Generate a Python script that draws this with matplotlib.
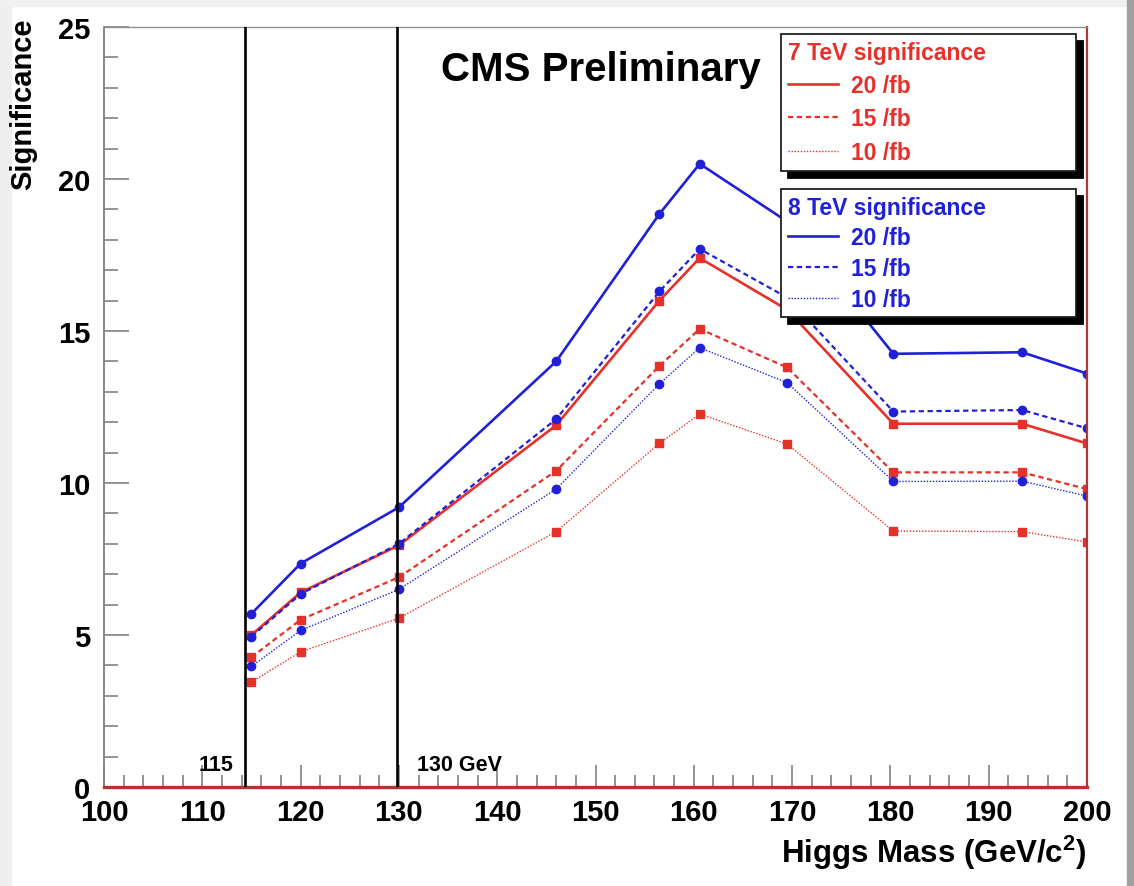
import matplotlib
matplotlib.use('Agg')
import matplotlib.pyplot as plt
from matplotlib.lines import Line2D
from matplotlib.patches import Rectangle
from matplotlib.ticker import MultipleLocator

plt.rcParams['font.family'] = ['Liberation Sans', 'DejaVu Sans']
plt.rcParams['font.weight'] = 'bold'
plt.rcParams['axes.labelweight'] = 'bold'
plt.rcParams['mathtext.fontset'] = 'custom'
plt.rcParams['mathtext.bf'] = 'Liberation Sans:bold'
plt.rcParams['mathtext.rm'] = 'Liberation Sans:bold'

# Higgs mass points (GeV)
mass = [115, 120, 130, 146, 156.5, 160.6, 169.5, 180.3, 193.4, 200]

# 7 TeV significance
sig7_20 = [5.0, 6.4, 7.95, 11.9, 16.0, 17.4, 15.7, 11.95, 11.95, 11.3]
sig7_15 = [4.27, 5.5, 6.9, 10.4, 13.85, 15.07, 13.8, 10.35, 10.35, 9.8]
sig7_10 = [3.45, 4.45, 5.55, 8.4, 11.3, 12.27, 11.28, 8.42, 8.4, 8.06]

# 8 TeV significance
sig8_20 = [5.7, 7.35, 9.2, 14.0, 18.85, 20.5, 18.6, 14.25, 14.3, 13.6]
sig8_15 = [4.95, 6.35, 8.0, 12.1, 16.3, 17.7, 16.1, 12.35, 12.4, 11.8]
sig8_10 = [3.97, 5.15, 6.5, 9.8, 13.26, 14.45, 13.3, 10.05, 10.06, 9.57]

lumi_labels = ['20 /fb', '15 /fb', '10 /fb']
mass_lines = [114.3, 129.8]
mass_line_labels = ['115', '130 GeV']

RED = '#e6302a'
BLUE = '#2020d8'
styles = [dict(ls='-', lw=1.9),
          dict(ls=(0, (2.4, 1.6)), lw=1.6),
          dict(ls=(0, (1, 1.2)), lw=1.0)]

W, H = 1134, 887
fig = plt.figure(figsize=(W / 100, H / 100), dpi=100)

# soft page border like the screenshot
fig.patches.append(Rectangle((0, 0), 11 / W, 1, transform=fig.transFigure, color='#eeeeee', zorder=-5))
fig.patches.append(Rectangle((0, 1 - 7 / H), 1, 7 / H, transform=fig.transFigure, color='#f1f1f1', zorder=-5))
fig.patches.append(Rectangle((1 - 7 / W, 0), 7 / W, 1, transform=fig.transFigure, color='#a0a0a0', zorder=-5))

ax = fig.add_axes([104 / W, 1 - 788 / H, (1087 - 104) / W, (788 - 28) / H])

for sig, st in zip([sig7_20, sig7_15, sig7_10], styles):
    ax.plot(mass, sig, color=RED, marker='s', ms=5.5, mec=RED, **st)
for sig, st in zip([sig8_20, sig8_15, sig8_10], styles):
    ax.plot(mass, sig, color=BLUE, marker='o', ms=6, mec=BLUE, **st)

for xv in mass_lines:
    ax.axvline(xv, color='black', lw=1.9, zorder=5)
ax.text(mass_lines[0] - 1.1, 0.4, mass_line_labels[0], ha='right', va='bottom', fontsize=15.5)
ax.text(mass_lines[1] + 2.0, 0.4, mass_line_labels[1], ha='left', va='bottom', fontsize=15.5)

ax.set_xlim(100, 200)
ax.set_ylim(0, 25)
ax.xaxis.set_major_locator(MultipleLocator(10))
ax.xaxis.set_minor_locator(MultipleLocator(2))
ax.yaxis.set_major_locator(MultipleLocator(5))
ax.yaxis.set_minor_locator(MultipleLocator(1))
ax.tick_params(axis='x', which='major', direction='in', length=16, width=1.1, color='#777777',
               labelsize=21, pad=8)
ax.tick_params(axis='x', which='minor', direction='in', length=8.5, width=1.1, color='#777777')
ax.tick_params(axis='y', which='major', direction='in', length=18, width=1.1, color='#777777',
               labelsize=21, pad=10)
ax.tick_params(axis='y', which='minor', direction='in', length=10, width=1.1, color='#777777')

ax.spines['left'].set_color('#808080')
ax.spines['left'].set_linewidth(1.3)
ax.spines['top'].set_color('#909090')
ax.spines['top'].set_linewidth(1.0)
ax.spines['bottom'].set_color('#b83030')
ax.spines['bottom'].set_linewidth(2.4)
ax.spines['right'].set_color('#a83a3a')
ax.spines['right'].set_linewidth(1.6)

ax.set_xlabel(r'Higgs Mass (GeV/c$^{\mathbf{2}}$)', loc='right', fontsize=22.5, labelpad=5)
ax.set_ylabel('Significance', loc='top', fontsize=21)
ax.yaxis.set_label_coords(-0.068, 1.013)

ax.text(0.505, 0.945, 'CMS Preliminary', transform=ax.transAxes, ha='center', va='center', fontsize=29)

# two boxed legends with black drop shadow
leg_font = {'family': 'Liberation Sans', 'weight': 'bold', 'size': 16.5}
for (title, col, top, spacing) in [('7 TeV significance', RED, 35, 0.45),
                                   ('8 TeV significance', BLUE, 190, 0.33)]:
    handles = [Line2D([], [], color=col, **st) for st in styles]
    leg = fig.legend(handles, lumi_labels, loc='upper left',
                     bbox_to_anchor=(781 / W, 1 - top / H, (1076 - 781) / W, 0),
                     mode='expand', alignment='left', title=title,
                     prop=leg_font, title_fontproperties=leg_font,
                     labelcolor=col, handlelength=2.2, handletextpad=0.55,
                     labelspacing=spacing, borderpad=0.3, borderaxespad=0,
                     fancybox=False, edgecolor='#202020', framealpha=1,
                     shadow={'ox': 5, 'oy': -5, 'color': 'black', 'alpha': 1})
    leg.get_title().set_color(col)
    leg.get_frame().set_linewidth(1.3)

fig.savefig('out.png', dpi=100)
